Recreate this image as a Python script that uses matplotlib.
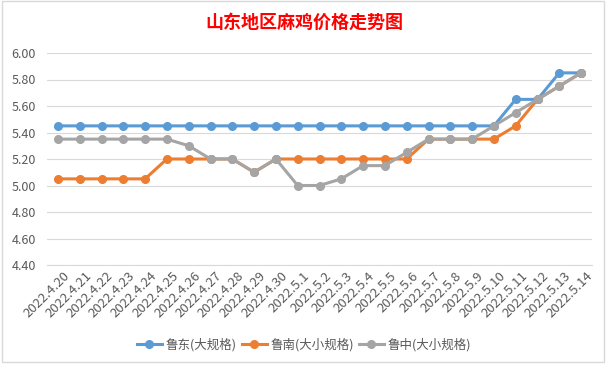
import matplotlib.pyplot as plt
from matplotlib.patches import Rectangle
from matplotlib.transforms import ScaledTranslation

plt.rcParams['font.family'] = ['Noto Sans CJK SC', 'DejaVu Sans']

# dates on the category axis
dates = ['2022.4.20', '2022.4.21', '2022.4.22', '2022.4.23', '2022.4.24',
         '2022.4.25', '2022.4.26', '2022.4.27', '2022.4.28', '2022.4.29',
         '2022.4.30', '2022.5.1', '2022.5.2', '2022.5.3', '2022.5.4',
         '2022.5.5', '2022.5.6', '2022.5.7', '2022.5.8', '2022.5.9',
         '2022.5.10', '2022.5.11', '2022.5.12', '2022.5.13', '2022.5.14']

# prices per region
ludong = [5.45, 5.45, 5.45, 5.45, 5.45, 5.45, 5.45, 5.45, 5.45, 5.45,
          5.45, 5.45, 5.45, 5.45, 5.45, 5.45, 5.45, 5.45, 5.45, 5.45,
          5.45, 5.65, 5.65, 5.85, 5.85]
lunan = [5.05, 5.05, 5.05, 5.05, 5.05, 5.20, 5.20, 5.20, 5.20, 5.10,
         5.20, 5.20, 5.20, 5.20, 5.20, 5.20, 5.20, 5.35, 5.35, 5.35,
         5.35, 5.45, 5.65, 5.75, 5.85]
luzhong = [5.35, 5.35, 5.35, 5.35, 5.35, 5.35, 5.30, 5.20, 5.20, 5.10,
           5.20, 5.00, 5.00, 5.05, 5.15, 5.15, 5.25, 5.35, 5.35, 5.35,
           5.45, 5.55, 5.65, 5.75, 5.85]

series = [
    ('鲁东(大规格)', ludong, '#5B9BD5'),
    ('鲁南(大小规格)', lunan, '#ED7D31'),
    ('鲁中(大小规格)', luzhong, '#A5A5A5'),
]

fig = plt.figure(figsize=(6.08, 3.66), dpi=100)
fig.patch.set_facecolor('white')

# chart frame like an Excel chart object
fig.patches.append(Rectangle((2 / 608, 1 - 362 / 366), 602 / 608, 361 / 366,
                             transform=fig.transFigure, fill=False,
                             edgecolor='#D9D9D9', linewidth=1))

ax = fig.add_axes([47 / 608, 101 / 366, 545 / 608, 212 / 366])

x = list(range(len(dates)))
for i, (name, vals, col) in enumerate(series):
    ax.plot(x, vals, color=col, linewidth=2.2, marker='o', markersize=5.5,
            label=name, zorder=3 + i)

ax.set_xlim(-0.5, len(dates) - 0.5)
ax.set_ylim(4.40, 6.00)
ax.set_yticks([4.4 + 0.2 * k for k in range(9)])
ax.set_yticklabels([f'{4.4 + 0.2 * k:.2f}' for k in range(9)])
ax.yaxis.grid(True, color='#D9D9D9', linewidth=0.8)
ax.set_axisbelow(True)
for s in ['top', 'right', 'left']:
    ax.spines[s].set_visible(False)
ax.spines['bottom'].set_color('#D9D9D9')
ax.spines['bottom'].set_linewidth(0.8)

ax.set_xticks(x)
ax.set_xticklabels(dates, rotation=45, ha='right', rotation_mode='anchor')
ax.tick_params(axis='x', length=0, labelsize=9.5, labelcolor='#595959', pad=3)
ax.tick_params(axis='y', length=0, labelsize=9, labelcolor='#595959', pad=8)
shift = ScaledTranslation(5 / 100, 0, fig.dpi_scale_trans)
for lab in ax.get_xticklabels():
    lab.set_transform(lab.get_transform() + shift)

fig.text(0.5, 1 - 22 / 366, '山东地区麻鸡价格走势图', ha='center', va='center',
         color='#FF0000', fontsize=13, fontweight='bold')

fig.legend(loc='center', bbox_to_anchor=(0.5, 1 - 345 / 366), ncol=3,
           frameon=False, fontsize=9, labelcolor='#595959', handlelength=2.0,
           handletextpad=0.3, columnspacing=0.4)

fig.savefig('out.png', dpi=100, facecolor='white')
